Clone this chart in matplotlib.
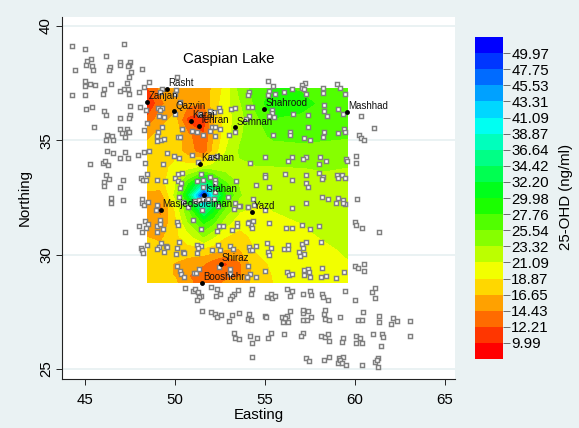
import numpy as np
import matplotlib
matplotlib.use("Agg")
import matplotlib.pyplot as plt

plt.rcParams['font.family'] = ['Liberation Sans', 'DejaVu Sans']

# contour surface: values
grid_east = [48.47, 49.2, 50, 50.7, 51.6, 52.1, 52.8, 53.6, 54.5, 55.5, 57, 58.3, 59.6]
grid_north = [37.27, 36.6, 35.9, 35.2, 34.5, 33.8, 33.1, 32.6, 32, 31.4, 30.8, 30.2, 29.6, 29.1, 28.78]
grid_ohd = [
    [12, 15, 15, 15.5, 15, 17, 19.5, 24, 26.5, 28, 27.5, 27, 26.5],
    [9, 14, 15.5, 15, 14.5, 17.5, 20, 23, 26, 29.8, 28.5, 27.2, 27],
    [13, 15.5, 17.5, 11.5, 10.2, 16, 19.5, 22.5, 25, 27.5, 27.2, 27, 26.8],
    [16, 17.5, 18, 15, 12.5, 16, 20, 23, 24.7, 26, 26.3, 26, 25.8],
    [18, 18, 18, 15.5, 13, 17, 21, 23.5, 24, 24.3, 24.5, 24.5, 24.2],
    [18, 18, 19.5, 20, 21.5, 22, 22, 23, 23.2, 23.2, 23.3, 23.4, 23.3],
    [17.5, 18, 20.5, 27, 36, 31, 26, 23, 22.5, 22.5, 23, 23, 23],
    [16, 15.5, 21.5, 31, 50, 38, 28, 23.5, 21.8, 22, 22.5, 22.8, 22.9],
    [16, 13.5, 19, 25, 36, 31, 25, 21.5, 20.6, 21.2, 21.8, 22.5, 22.7],
    [16, 15, 18, 23, 28, 26, 22, 19.7, 20, 20.5, 21.1, 22, 22.3],
    [16.5, 16, 18.3, 20, 23.5, 21.5, 19, 18, 19.5, 20, 20.5, 21.3, 21.9],
    [18, 17.5, 17.7, 18, 18, 17.5, 16.5, 16.5, 19, 19.6, 20, 20.6, 21.4],
    [17.8, 17.5, 16.5, 15.5, 14.5, 13, 11.8, 14, 18, 19.3, 19.7, 20, 20.9],
    [17.8, 17.5, 16.5, 14.5, 13.5, 13, 13, 14, 17.5, 19, 19.5, 19.7, 20.5],
    [17.8, 17.5, 17, 15, 13.3, 13, 14.8, 15.5, 17.3, 18.9, 19.3, 19.5, 20.3],
]
levels = [9.99, 12.21, 14.43, 16.65, 18.87, 21.09, 23.32, 25.54, 27.76, 29.98,
          32.20, 34.42, 36.64, 38.87, 41.09, 43.31, 45.53, 47.75, 49.97]
level_labels = ['9.99', '12.21', '14.43', '16.65', '18.87', '21.09', '23.32', '25.54', '27.76', '29.98',
                '32.20', '34.42', '36.64', '38.87', '41.09', '43.31', '45.53', '47.75', '49.97']
band_colors = ['#ff0000', '#ff3600', '#ff6b00', '#ffa100', '#ffd700', '#f2ff00', '#bcff00', '#86ff00',
               '#51ff00', '#1bff00', '#00ff1b', '#00ff51', '#00ff86', '#00ffbc', '#00fff2', '#00d7ff',
               '#00a1ff', '#006bff', '#0036ff', '#0000ff']

# cities
city_names = ['Rasht', 'Zanjan', 'Qazvin', 'Karaj', 'Tehran', 'Semnan', 'Shahrood', 'Mashhad', 'Kashan',
              'Isfahan', 'Masjedsoleiman', 'Yazd', 'Shiraz', 'Booshehr']
city_east = [49.54, 48.44, 49.96, 50.89, 51.33, 53.33, 54.96, 59.57, 51.37, 51.59, 49.22, 54.31, 52.54, 51.5]
city_north = [37.23, 36.66, 36.26, 35.83, 35.64, 35.56, 36.37, 36.23, 33.95, 32.62, 31.95, 31.87, 29.58, 28.75]

# sampling sites (easting, northing), by region
sites_nw = [(44.28,39.11),(45.02,38.98),(47.17,39.22),(46.17,38.67),(45.33,38.55),(45.13,38.47),(45.04,38.31),
    (45.41,38.26),(45.46,38.06),(44.44,38.09),(46.39,38.21),(46.31,38.06),(46.96,38.42),(46.96,38.28),(47.52,38.42),
    (47.46,38.28),(47.37,38.26),(47.57,38.0),(47.44,37.78),(48.15,38.12),(44.98,37.57),(44.98,37.38),(45.26,37.48),
    (45.56,37.41),(46.46,37.48),(47.35,37.51),(48.3,37.35),(48.54,37.54),(44.28,36.98),(45.02,36.98),(46.07,37.24),
    (46.02,37.04),(46.96,37.17),(47.17,37.22),(47.37,37.26),(47.44,37.04),(48.0,37.11),(45.06,36.37),(45.41,36.46),
    (46.07,36.28),(46.15,36.12),(46.96,35.98),(47.52,36.49),(48.07,36.46),(48.37,36.31),(47.52,36.1),(47.46,35.98),
    (45.5,35.57),(46.96,35.51),(47.33,35.51),(47.37,35.34),(47.07,35.3),(47.24,35.15),(47.44,35.34),(48.26,35.44),
    (48.46,35.77),(46.24,35.25),(46.5,35.19),(46.19,35.0),(46.54,35.02),(46.24,34.52),(46.54,34.44),(47.2,34.48),
    (46.96,34.22),(47.37,34.22),(47.96,34.36),(48.3,34.49),(48.54,34.55)]
sites_north_centre = [(50.13,37.78),(49.28,37.24),(50.06,37.19),(50.0,37.04),(49.17,37.11),(50.28,36.68),(49.07,36.42),
    (49.26,36.42),(49.17,36.31),(49.98,36.14),(49.11,36.05),(49.41,36.02),(51.39,36.17),(51.94,36.28),(52.17,36.23),
    (52.43,36.43),(52.48,36.27),(53.13,36.37),(53.33,36.43),(50.37,35.51),(49.26,35.56),(49.04,35.37),(48.98,35.18),
    (49.2,35.0),(49.41,35.05),(48.98,34.97),(50.15,35.16),(50.28,35.16),(50.96,35.41),(51.2,35.35),(51.56,35.21),
    (52.04,35.56),(52.22,35.56),(52.48,35.48),(51.94,35.41),(52.22,35.18),(53.0,35.21),(53.33,35.35),(49.54,34.44),
    (49.96,34.32),(50.24,34.22),(50.96,34.36),(51.98,34.28),(52.31,34.33)]
sites_ne = [(55.15,37.57),(55.46,37.38),(57.24,37.51),(57.09,37.41),(57.04,37.3),(57.18,37.23),(58.24,37.3),(59.02,37.48),
    (59.18,37.29),(56.04,37.13),(56.52,37.22),(55.22,37.17),(55.15,37.0),(55.57,37.01),(57.3,37.01),(58.24,37.07),
    (59.44,37.01),(54.13,37.11),(54.07,36.98),(54.04,36.46),(54.28,36.46),(55.37,36.34),(55.37,36.2),(55.22,36.05),
    (55.5,36.02),(54.13,36.05),(53.94,35.95),(58.31,36.52),(58.26,36.27),(58.46,36.05),(59.05,36.37),(59.33,36.17),
    (56.55,36.15),(57.37,36.12),(60.35,36.05),(61.05,35.54),(60.22,35.21),(60.37,35.12),(60.5,35.0),(57.41,35.56),
    (58.28,35.37),(59.09,35.32),(59.41,35.48),(59.48,35.38),(56.41,35.35),(56.41,35.21),(55.46,35.22),(58.24,35.13),
    (57.17,35.08),(57.52,35.03)]
sites_east_centre = [(54.98,34.27),(56.52,34.27),(56.28,34.09),(57.3,34.27),(57.13,34.17),(58.04,34.27),(58.0,33.96),
    (58.42,34.11),(59.52,34.17),(59.57,34.08),(60.07,34.3),(60.04,34.02),(54.2,33.99),(55.02,33.47),(54.98,33.4),
    (56.13,33.53),(56.52,33.25),(57.3,33.47),(58.0,33.56),(58.22,33.38),(58.18,33.31),(59.02,33.5),(59.3,33.47),
    (59.09,33.37),(59.44,33.34),(54.48,33.06),(55.22,32.97),(57.3,33.13),(57.37,32.97),(54.35,32.42),(58.15,32.51),
    (58.52,32.42),(59.09,32.48),(59.37,32.39),(58.96,32.27),(59.44,32.2),(59.37,32.25),(60.11,32.45),(57.3,32.27),
    (56.48,32.03),(54.05,32.09),(54.42,32.16),(54.98,31.97),(53.61,32.14),(54.13,31.42),(54.33,31.45),(54.24,31.3),
    (54.31,31.18),(55.22,31.37),(56.15,31.18),(56.48,31.15),(57.05,31.3),(57.52,31.1),(58.0,31.27),(60.0,31.42),
    (60.04,31.3),(60.42,31.18),(61.33,30.98),(55.11,30.51),(54.13,30.32),(54.17,30.19),(54.3,30.18),(54.52,30.38),
    (55.35,30.28),(55.18,30.13),(55.22,29.99),(56.31,30.41),(56.04,30.25),(56.28,30.24),(57.05,30.47),(57.3,30.57),
    (57.13,30.31),(56.9,30.12),(57.18,30.02),(56.96,29.95),(58.11,30.54),(54.05,29.52),(54.17,29.13),(54.02,29.03),
    (54.48,29.0),(54.98,29.28),(56.24,29.25),(56.35,29.12),(56.52,29.13),(57.2,29.32),(57.39,29.38),(57.46,29.22),
    (57.17,29.09),(57.52,29.04),(58.15,29.41),(58.11,29.03),(58.39,29.07),(58.96,28.99),(59.41,29.25),(60.0,29.52),
    (60.15,29.41),(60.5,29.57),(60.5,29.28)]
sites_west_centre = [(45.26,33.96),(46.0,34.02),(46.13,34.08),(46.28,33.93),(48.35,33.99),(46.15,33.47),(46.31,33.31),
    (46.07,33.16),(46.06,33.02),(47.09,33.28),(46.96,32.97),(48.46,33.53),(48.13,33.34),(48.22,33.25),(48.39,33.25),
    (46.46,32.48),(46.43,32.27),(47.13,32.39),(48.19,32.43),(48.19,32.26),(48.28,32.19),(48.5,32.3),(48.35,31.49),
    (48.52,31.34),(47.98,31.26),(48.39,31.17),(48.19,30.98),(47.24,30.98),(48.09,30.27),(48.15,30.22),(48.22,30.06),
    (48.46,30.44),(51.26,34.04),(49.35,33.95),(49.02,33.25),(49.44,33.22),(50.02,33.37),(50.19,33.51),(50.37,33.56),
    (50.19,33.22),(50.35,33.13),(50.28,32.92),(51.43,33.51),(51.96,33.38),(52.22,33.28),(52.24,33.13),(53.39,33.22),
    (51.24,33.22),(51.56,32.96),(51.54,33.25),(52.22,32.74),(52.96,32.51),(50.22,32.52),(50.46,32.3),(51.11,32.35),
    (51.35,32.38),(51.57,32.45),(51.85,32.45),(52.17,32.42),(53.35,32.26),(53.57,32.13),(53.31,31.98),(54.07,32.06),
    (51.52,31.97),(52.41,32.13),(50.74,32.09),(49.02,32.19),(48.94,31.97),(51.02,31.53),(49.17,31.53),(48.98,31.27),
    (49.17,31.33),(49.31,31.14),(48.98,30.98),(50.13,31.43),(50.19,31.28),(51.43,31.14),(52.44,31.27),(52.67,31.27),
    (52.35,31.04),(53.46,31.4),(53.43,31.26),(53.19,31.07),(54.07,31.4),(50.22,30.56),(49.2,30.51),(49.5,30.38),
    (49.56,30.32),(49.13,30.32),(49.02,30.25),(49.39,30.12),(50.09,30.27),(50.06,30.03),(50.43,30.12),(50.5,30.05),
    (51.24,30.44),(51.46,30.38),(51.26,30.27),(51.24,30.08),(52.04,30.18),(52.41,30.44),(52.5,30.18),(53.07,30.37),
    (53.24,30.25),(50.13,29.51),(50.28,29.29),(50.33,29.15),(50.5,29.03),(51.07,29.2),(51.17,29.2),(51.35,29.35),
    (52.44,29.47),(53.07,29.36),(53.07,29.17),(53.98,29.03)]
sites_south = [(50.54,28.53),(50.99,28.4),(51.13,28.48),(51.3,28.37),(51.43,28.19),(51.32,28.13),(51.25,28.0),(52.02,28.57),
    (52.34,28.48),(52.49,28.26),(52.3,28.18),(53.49,28.45),(53.28,28.28),(53.19,28.19),(53.08,28.05),(54.3,28.48),
    (54.25,28.29),(55.1,28.16),(55.34,28.29),(55.41,28.09),(55.56,28.21),(56.21,28.48),(56.49,28.42),(56.41,28.19),
    (57.1,28.28),(57.5,28.42),(57.58,28.25),(58.19,28.29),(58.21,28.15),(58.52,28.02),(59.45,28.42),(60.0,28.03),
    (60.97,28.37),(61.13,28.53),(61.13,28.12),(51.52,27.54),(52.02,27.48),(52.21,27.41),(52.34,27.25),(52.58,27.36),
    (53.0,27.1),(53.15,27.36),(53.58,27.45),(54.12,27.39),(54.08,27.19),(54.23,27.13),(55.0,27.32),(55.06,27.25),
    (55.97,27.29),(56.23,27.32),(56.41,27.54),(56.02,27.07),(56.26,27.07),(56.13,27.22),(57.1,27.43),(57.13,27.58),
    (57.37,27.54),(57.54,27.29),(57.1,27.13),(57.36,27.16),(58.26,27.39),(58.32,27.58),(58.37,27.17),(58.58,27.16),
    (59.17,27.29),(60.19,27.13),(60.41,27.13),(60.43,27.51),(61.36,27.33),(61.32,27.07),(61.99,26.98),(62.15,27.23),
    (62.34,27.1),(63.08,27.1),(53.28,26.58),(53.36,26.37),(53.54,26.3),(54.17,26.43),(54.56,26.34),(54.3,26.15),
    (55.36,26.56),(55.19,26.34),(56.08,26.52),(57.12,26.56),(56.99,26.44),(58.13,26.43),(58.36,26.4),(58.49,26.53),
    (58.56,26.21),(59.37,26.34),(59.3,26.18),(60.08,26.43),(60.28,26.37),(60.08,26.12),(60.41,26.12),(61.0,26.52),
    (61.49,26.52),(61.56,26.39),(61.45,26.02),(63.08,26.46),(54.3,25.54),(57.26,25.48),(57.43,25.35),(58.28,25.41),
    (58.58,25.51),(59.1,25.48),(59.34,25.54),(59.06,25.24),(59.17,25.4),(59.26,25.24),(59.49,25.19),(60.39,25.19),
    (61.1,25.29),(61.28,25.46),(61.23,25.4),(61.3,25.08)]

x_ticks = [45, 50, 55, 60, 65]
y_ticks = [25, 30, 35, 40]

W, H = 579, 428
BG = '#eaf2f3'
fig = plt.figure(figsize=(W / 100, H / 100), dpi=100, facecolor=BG)
ax = fig.add_axes([62 / W, (H - 379) / H, (455 - 62) / W, (379 - 17) / H], facecolor='white')
ax.set_xlim(43.72, 65.57)
ax.set_ylim(24.56, 40.39)

ax.set_yticks(y_ticks)
ax.set_xticks(x_ticks)
ax.grid(axis='y', color=BG, lw=1.4, zorder=0)
ax.set_axisbelow(True)
for s in ('top', 'right'):
    ax.spines[s].set_visible(False)
for s in ('left', 'bottom'):
    ax.spines[s].set_linewidth(0.8)
    ax.spines[s].set_color('#222222')
ax.tick_params(axis='x', length=4, width=0.7, labelsize=10.8, pad=6, color='#222222')
ax.tick_params(axis='y', length=4, width=0.7, labelsize=10.8, pad=2.5, color='#222222')
plt.setp(ax.get_yticklabels(), rotation=90, va='center')
ax.set_xlabel('Easting', fontsize=10.8, labelpad=1)
ax.set_ylabel('Northing', fontsize=10.8, labelpad=5)

cs = ax.contourf(grid_east, grid_north, np.array(grid_ohd), levels=levels, colors=band_colors,
                 extend='both', zorder=2, antialiased=False)

sites = np.array(sites_nw + sites_north_centre + sites_ne + sites_east_centre + sites_west_centre + sites_south)
ax.plot(sites[:, 0], sites[:, 1], ls='none', marker='s', ms=3.0, mew=1.05, mec='#7f7f7f', mfc='white',
        zorder=3, clip_on=False)
ax.plot(city_east, city_north, ls='none', marker='o', ms=3.5, mew=0, color='black', zorder=4)
for name, cx, cy in zip(city_names, city_east, city_north):
    ax.annotate(name, (cx, cy), xytext=(1.0, 0.6), textcoords='offset points', fontsize=7,
                color='#111111', va='bottom', ha='left', zorder=5)
ax.text(52.97, 38.36, 'Caspian Lake', fontsize=10.8, ha='center', va='baseline', color='black', zorder=5)

cax = fig.add_axes([475 / W, (H - 359) / H, 28 / W, 322 / H])
cb = fig.colorbar(cs, cax=cax, ticks=levels, extendrect=True, extendfrac=1 / 18, spacing='uniform', drawedges=False)
cb.outline.set_visible(False)
cb.ax.set_yticklabels(level_labels, fontsize=10.8)
cb.ax.tick_params(length=5, width=0.6, color='#555555', pad=1)
fig.text(566 / W, (H - 197) / H, '25-OHD (ng/ml)', rotation=90, fontsize=10.8, ha='center', va='center')

fig.savefig('out.png', dpi=100, facecolor=BG)
